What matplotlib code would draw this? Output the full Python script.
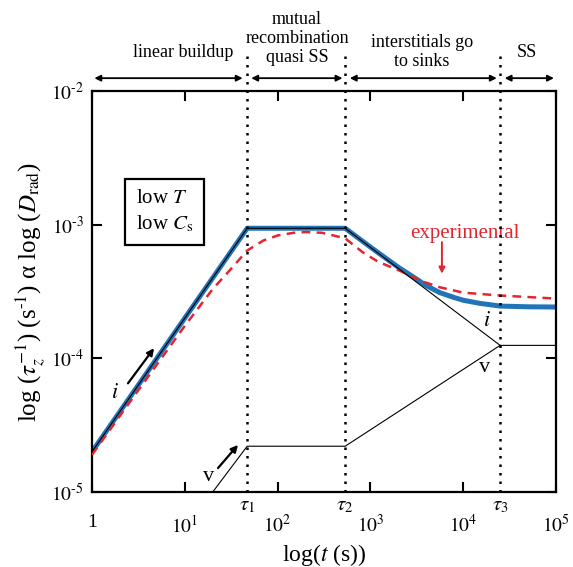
import matplotlib
matplotlib.use("Agg")
import matplotlib.pyplot as plt

plt.rcParams['font.family'] = ['Liberation Serif', 'DejaVu Serif']
plt.rcParams['mathtext.fontset'] = 'stix'

# characteristic times (s)
tau1, tau2, tau3 = 47, 535, 25000

# simple model: interstitials (i) and vacancies (v)
i_t = [1, tau1, tau2, tau3, 1e5]
i_d = [2e-5, 9.4e-4, 9.4e-4, 1.25e-4, 1.25e-4]
v_t = [20, tau1, tau2, tau3]
v_d = [1e-5, 2.2e-5, 2.2e-5, 1.25e-4]

# total radiation-enhanced diffusion (blue)
tot_t = [1, tau1, tau2, 1000, 2000, 3000, 4000, 5600, 8000, 10000, 15000, 25000, 50000, 1e5]
tot_d = [2e-5, 9.4e-4, 9.4e-4, 6.8e-4, 4.8e-4, 4.0e-4, 3.5e-4, 3.1e-4, 2.85e-4, 2.72e-4,
         2.58e-4, 2.46e-4, 2.43e-4, 2.42e-4]

# experimental (red dashed)
exp_t = [1, 3, 10, 20, 30, 47, 70, 100, 150, 200, 300, 400, 535, 830, 1200, 2100, 3500,
         5600, 10000, 25000, 1e5]
exp_d = [1.9e-5, 5.5e-5, 1.75e-4, 3.3e-4, 4.5e-4, 6.4e-4, 7.6e-4, 8.3e-4, 8.7e-4, 8.8e-4,
         8.7e-4, 8.3e-4, 7.9e-4, 6.2e-4, 5.3e-4, 4.5e-4, 3.8e-4, 3.4e-4, 3.1e-4, 2.95e-4, 2.8e-4]

xticks = [1, 10, 1e2, 1e3, 1e4, 1e5]
xlabels = ['1', r'$10^{1}$', r'$10^{2}$', r'$10^{3}$', r'$10^{4}$', r'$10^{5}$']
yticks = [1e-5, 1e-4, 1e-3, 1e-2]
ylabels = [r'$10^{\text{-}5}$', r'$10^{\text{-}4}$', r'$10^{\text{-}3}$', r'$10^{\text{-}2}$']

fig = plt.figure(figsize=(5.73, 5.67), dpi=100)
ax = fig.add_axes([0.1606, 0.1323, 0.8097, 0.7072])
ax.set_xscale('log')
ax.set_yscale('log')
ax.set_xlim(1, 1e5)
ax.set_ylim(1e-5, 1e-2)

ax.plot(tot_t, tot_d, color='#2274b8', lw=3.6, solid_capstyle='butt', zorder=2)
ax.plot(exp_t, exp_d, color='#e3262d', lw=1.8, ls=(0, (3.5, 2.5)), zorder=3)
ax.plot(i_t, i_d, color='black', lw=0.8, zorder=4)
ax.plot(v_t, v_d, color='black', lw=0.8, zorder=4)

# dotted time markers, running above the frame
xt = ax.get_xaxis_transform()
for tt, name in zip([tau1, tau2, tau3], [r'$\tau_1$', r'$\tau_2$', r'$\tau_3$']):
    ax.plot([tt, tt], [0, 1.10], transform=xt, color='black', lw=1.8,
            ls=(0, (1, 2.4)), clip_on=False, zorder=5)
    ax.text(tt, -0.035, name, transform=xt, ha='center', va='center', fontsize=15)

# regime arrows on top
for a, b in [(1.06, 42), (52, 500), (600, 23000), (28000, 95000)]:
    ax.annotate('', xy=(b, 1.032), xytext=(a, 1.032), xycoords=xt, textcoords=xt,
                arrowprops=dict(arrowstyle='<|-|>', color='black', lw=1.3,
                                mutation_scale=9, shrinkA=0, shrinkB=0),
                annotation_clip=False)
ax.text(9.6, 1.095, 'linear buildup', transform=xt, ha='center', va='center', fontsize=13)
ax.text(162, 1.132, 'mutual\nrecombination\nquasi SS', transform=xt, ha='center',
        va='center', fontsize=13, linespacing=1.15)
ax.text(3600, 1.098, 'interstitials go\nto sinks', transform=xt, ha='center',
        va='center', fontsize=13, linespacing=1.15)
ax.text(48500, 1.095, 'SS', transform=xt, ha='center', va='center', fontsize=13)

# arrows and labels for i and v
ax.annotate('', xy=(4.66, 1.19e-4), xytext=(2.44, 6.5e-5),
            arrowprops=dict(arrowstyle='-|>', color='black', lw=1.6, mutation_scale=10,
                            shrinkA=0, shrinkB=0))
ax.text(1.77, 5.5e-5, r'$i$', fontsize=16, ha='center', va='center')
ax.annotate('', xy=(37.4, 2.25e-5), xytext=(22.8, 1.51e-5),
            arrowprops=dict(arrowstyle='-|>', color='black', lw=1.6, mutation_scale=10,
                            shrinkA=0, shrinkB=0))
ax.text(18.2, 1.3e-5, 'v', fontsize=16, ha='center', va='center')
ax.text(18000, 1.87e-4, r'$i$', fontsize=16, ha='center', va='center')
ax.text(17000, 8.5e-5, 'v', fontsize=16, ha='center', va='center')

# experimental label
ax.text(10500, 8.6e-4, 'experimental', color='#e3262d', fontsize=15, ha='center', va='center')
ax.annotate('', xy=(5900, 4.3e-4), xytext=(5900, 7.4e-4),
            arrowprops=dict(arrowstyle='-|>', color='#e3262d', lw=1.4, mutation_scale=9,
                            shrinkA=0, shrinkB=0))

# condition box
ax.text(0.094, 0.699, 'low $T$\nlow $C_{\\rm s}$', transform=ax.transAxes, ha='left',
        va='center', fontsize=15, linespacing=1.35,
        bbox=dict(boxstyle='square,pad=0.5', fc='white', ec='black', lw=1.6))

ax.set_xticks(xticks)
ax.set_xticklabels(xlabels, fontsize=14)
ax.set_yticks(yticks)
ax.set_yticklabels(ylabels, fontsize=14)
ax.minorticks_off()
ax.tick_params(which='major', direction='in', length=7, width=1.5, top=True, right=True)
ax.tick_params(axis='x', pad=16)
ax.tick_params(axis='y', pad=6)
for s in ax.spines.values():
    s.set_linewidth(1.6)

ax.set_xlabel(r'log($t$ (s))', fontsize=17, labelpad=4)
ax.set_ylabel(r'log ($\tau_z^{-1}$) (s$^{\text{-1}}$) α log ($D_{\rm rad}$)', fontsize=18,
              labelpad=3)

fig.savefig('out.png', dpi=100)
